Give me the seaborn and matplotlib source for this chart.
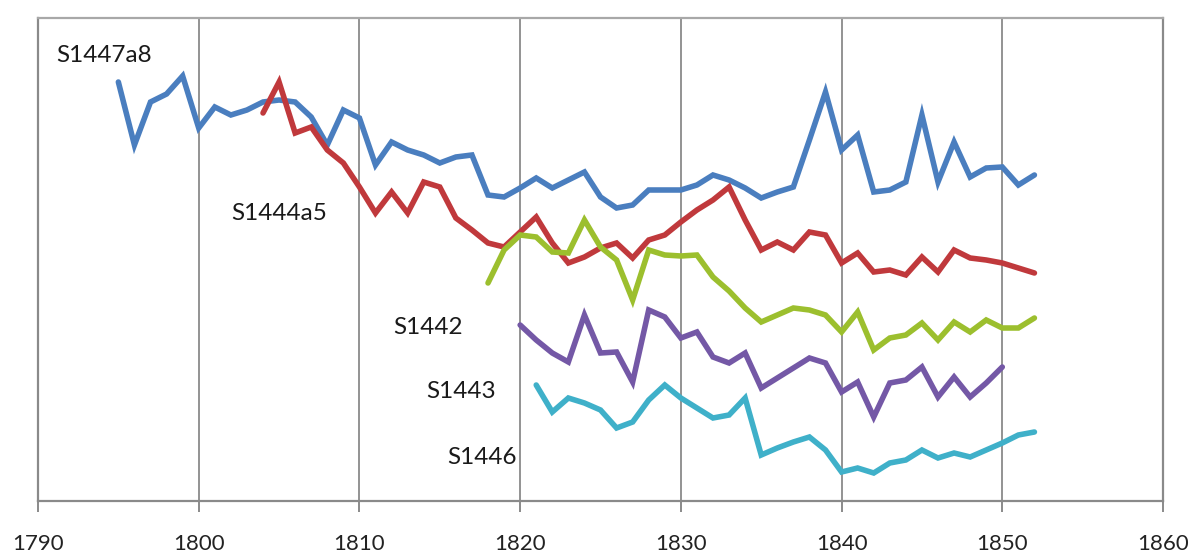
import matplotlib
matplotlib.use("Agg")
import matplotlib.pyplot as plt
import seaborn as sns
import pandas as pd

# values, arbitrary index units (no y axis shown)
years_1447 = list(range(1795, 1853))
s1447a8 = [419, 356, 399, 407, 425, 373, 394, 386, 391, 399,
           401, 399, 384, 356, 391, 383, 336, 359, 351, 346,
           338, 344, 346, 306, 304, 313, 323, 313, 321, 329,
           304, 293, 296, 311, 311, 311, 316, 326, 321, 313,
           303, 309, 314, 361, 409, 351, 366, 309, 311, 319,
           386, 319, 359, 324, 333, 334, 316, 326]

years_1444 = list(range(1804, 1853))
s1444a5 = [388, 419, 368, 374, 351, 338, 314, 288, 309, 288,
           319, 314, 283, 271, 258, 254, 269, 284, 258, 238,
           244, 253, 258, 243, 261, 266, 279, 291, 301, 314,
           281, 251, 259, 251, 269, 266, 238, 248, 229, 231,
           226, 244, 229, 251, 243, 241, 238, 233, 228]

years_1442 = list(range(1818, 1853))
s1442 = [218, 251, 266, 264, 249, 248, 281, 254, 241, 201,
         251, 246, 245, 246, 224, 210, 193, 179, 186, 193,
         191, 186, 169, 189, 151, 163, 166, 178, 161, 179,
         169, 181, 173, 173, 183]

years_1443 = list(range(1820, 1851))
s1443 = [176, 161, 148, 139, 186, 148, 149, 119, 191, 184,
         163, 169, 144, 138, 148, 113, 123, 133, 143, 138,
         109, 119, 84, 118, 121, 134, 104, 124, 104, 118, 134]

years_1446 = list(range(1821, 1853))
s1446 = [116, 89, 103, 98, 91, 73, 79, 101, 116, 103,
         93, 83, 86, 103, 46, 53, 59, 64, 51, 29,
         33, 28, 38, 41, 51, 43, 48, 44, 51, 58, 66, 69]

series_names = ["S1447a8", "S1444a5", "S1442", "S1443", "S1446"]
colors = ["#4a7ebf", "#c0393c", "#9cbf2e", "#7458a6", "#3fb0c9"]
label_x = [1794.1, 1805.0, 1814.3, 1816.3, 1817.6]
label_y = [445, 287, 174, 109, 43]
x_ticks = list(range(1790, 1861, 10))

frames = []
for name, yrs, vals in zip(series_names,
                           [years_1447, years_1444, years_1442, years_1443, years_1446],
                           [s1447a8, s1444a5, s1442, s1443, s1446]):
    frames.append(pd.DataFrame({"year": yrs, "value": vals, "series": name}))
df = pd.concat(frames, ignore_index=True)

sns.set_style("white")
plt.rcParams["font.family"] = ["Lato", "DejaVu Sans"]

fig = plt.figure(figsize=(11.94, 5.56), dpi=100)
ax = fig.add_axes([38 / 1194, 55 / 556, 1125 / 1194, 483 / 556])

sns.lineplot(data=df, x="year", y="value", hue="series", hue_order=series_names,
             palette=colors, linewidth=4, legend=False, ax=ax,
             solid_joinstyle="miter")

for name, lx, ly in zip(series_names, label_x, label_y):
    ax.text(lx, ly, name, ha="center", va="center", fontsize=17.5, color="#1a1a1a")

ax.set_xlim(1790, 1860)
ax.set_ylim(0, 483)
ax.set_xticks(x_ticks)
ax.set_yticks([])
ax.set_xlabel("")
ax.set_ylabel("")
ax.grid(axis="x", color="#8a8a8a", linewidth=1.3)
ax.set_axisbelow(True)
for sp in ax.spines.values():
    sp.set_color("#8a8a8a")
    sp.set_linewidth(1.6)
ax.spines["top"].set_color("#a8a8a8")
ax.tick_params(axis="x", bottom=True, direction="out", length=8, width=1.4,
               color="#8a8a8a", labelsize=16, labelcolor="#222222", pad=16)

fig.savefig("out.png", dpi=100)
